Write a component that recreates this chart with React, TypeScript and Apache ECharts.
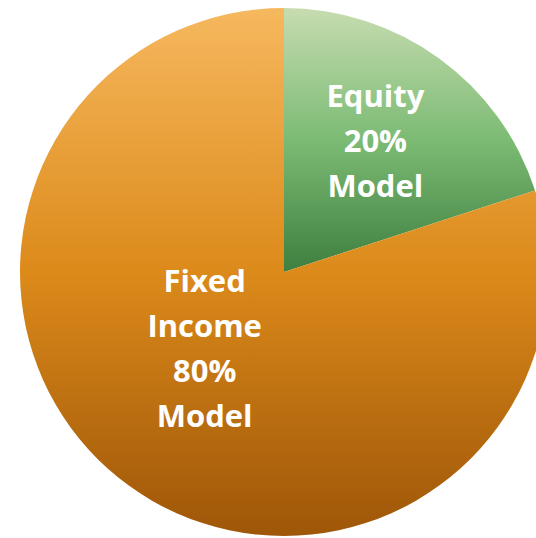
import React, { useEffect, useRef } from "react";
import * as echarts from "echarts";

const categories = ["Equity", "Fixed Income"];
const values = [20, 80];
const labelTexts = ["Equity\n20%\nModel", "Fixed\nIncome\n80%\nModel"];

export default function App() {
  const ref = useRef<HTMLDivElement>(null);
  useEffect(() => {
    document.body.style.margin = "0";
    const chart = echarts.init(ref.current!, null, { renderer: "svg" });
    const grads = [
      new echarts.graphic.LinearGradient(0, 0, 0, 1, [
        { offset: 0, color: "#c7dcb0" },
        { offset: 0.5, color: "#7bbb74" },
        { offset: 1, color: "#3f7f3f" },
      ]),
      new echarts.graphic.LinearGradient(0, 0, 0, 1, [
        { offset: 0, color: "#f6b85e" },
        { offset: 0.5, color: "#dc8a1a" },
        { offset: 1, color: "#9e5608" },
      ]),
    ];
    const offsets = [
      [12, -23],
      [0, -34],
    ];
    chart.setOption({
      animation: false,
      series: [
        {
          type: "pie",
          center: [284, 272],
          radius: 264,
          startAngle: 90,
          clockwise: true,
          silent: true,
          data: categories.map((c, i) => ({
            name: c,
            value: values[i],
            itemStyle: { color: grads[i] },
            label: { offset: offsets[i] },
          })),
          itemStyle: { borderWidth: 0 },
          label: {
            show: true,
            position: "inside",
            formatter: (p: any) => labelTexts[p.dataIndex],
            color: "#ffffff",
            fontFamily: "Open Sans",
            fontWeight: "bold",
            fontSize: 31,
            lineHeight: 45,
            align: "center",
          },
          labelLine: { show: false },
        },
      ],
    });
    return () => chart.dispose();
  }, []);
  return (
    <div
      ref={ref}
      style={{ position: "absolute", left: 0, top: 0, width: 536, height: 538 }}
    />
  );
}
